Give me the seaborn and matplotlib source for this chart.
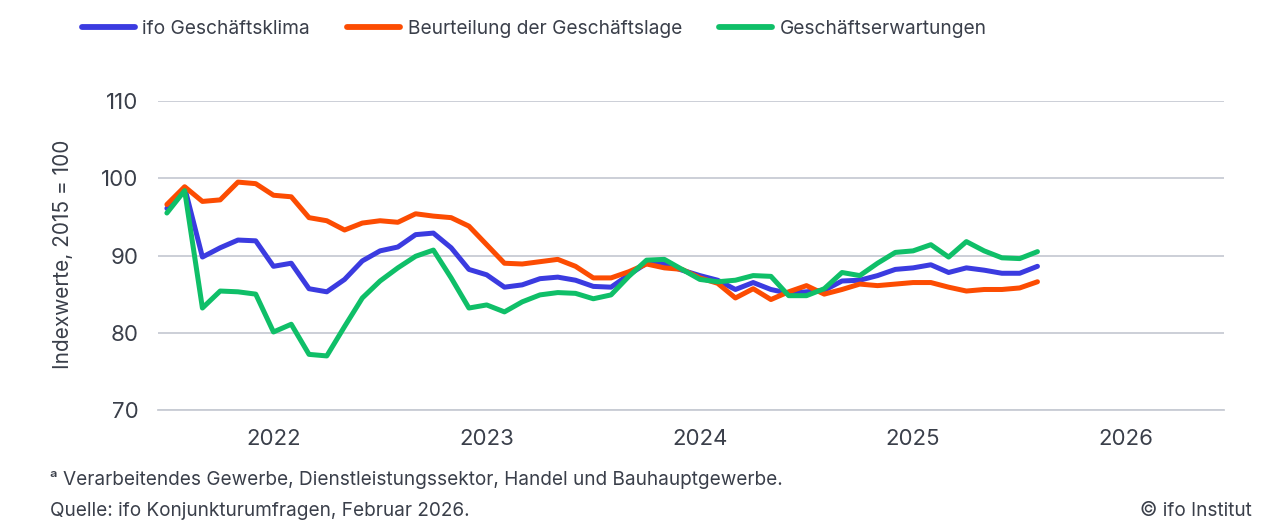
import numpy as np
import pandas as pd
import matplotlib
matplotlib.use("Agg")
import matplotlib.pyplot as plt
import seaborn as sns
from matplotlib.lines import Line2D

# ---- data (monthly, Jan 2022 - Feb 2026) ----
years = [2022, 2023, 2024, 2025, 2026]
series_names = ["ifo Geschäftsklima", "Beurteilung der Geschäftslage", "Geschäftserwartungen"]

klima = [96.1, 98.8, 89.8, 91.0, 92.0, 91.9, 88.6, 89.0, 85.7, 85.3, 86.9, 89.3,
         90.6, 91.1, 92.7, 92.9, 91.0, 88.2, 87.5, 85.9, 86.2, 87.0, 87.2, 86.8,
         86.0, 85.9, 87.5, 89.0, 88.9, 88.1, 87.4, 86.8, 85.6, 86.5, 85.6, 85.1,
         85.3, 85.5, 86.7, 86.8, 87.4, 88.2, 88.4, 88.8, 87.8, 88.4, 88.1, 87.7,
         87.7, 88.6]
lage = [96.6, 98.9, 97.0, 97.2, 99.5, 99.3, 97.8, 97.6, 94.9, 94.5, 93.3, 94.2,
        94.5, 94.3, 95.4, 95.1, 94.9, 93.8, 91.4, 89.0, 88.9, 89.2, 89.5, 88.6,
        87.1, 87.1, 87.9, 88.9, 88.4, 88.2, 87.1, 86.4, 84.5, 85.7, 84.3, 85.3,
        86.1, 85.0, 85.6, 86.3, 86.1, 86.3, 86.5, 86.5, 85.9, 85.4, 85.6, 85.6,
        85.8, 86.6]
erwartungen = [95.5, 98.4, 83.2, 85.4, 85.3, 85.0, 80.1, 81.1, 77.2, 77.0, 80.8, 84.5,
               86.7, 88.4, 89.9, 90.7, 87.1, 83.2, 83.6, 82.7, 84.0, 84.9, 85.2, 85.1,
               84.4, 84.9, 87.3, 89.4, 89.5, 88.2, 86.9, 86.6, 86.8, 87.4, 87.3, 84.8,
               84.8, 85.7, 87.8, 87.4, 89.0, 90.4, 90.6, 91.4, 89.8, 91.8, 90.6, 89.7,
               89.6, 90.5]

colors = ["#3b3be0", "#fc4c02", "#0fbf68"]

n = len(klima)
month_idx = np.arange(n)
xpos = 2022 + (month_idx + 0.5) / 12.0

df = pd.DataFrame({
    "x": np.concatenate([xpos, xpos, xpos]),
    "wert": klima + lage + erwartungen,
    "serie": [series_names[0]] * n + [series_names[1]] * n + [series_names[2]] * n,
})

# ---- style ----
sns.set_theme(style="white")
plt.rcParams["font.family"] = ["Inter", "DejaVu Sans"]
text_col = "#3a3f4a"
grid_col = "#c8ccd4"

fig = plt.figure(figsize=(12.8, 5.32), dpi=100)
ax = fig.add_axes([158 / 1280, 1 - 410 / 532, (1224 - 158) / 1280, (410 - 101) / 532])

sns.lineplot(data=df, x="x", y="wert", hue="serie", hue_order=series_names,
             palette=colors, linewidth=3.6, ax=ax, legend=False)

ax.set_xlim(2022, 2027)
ax.set_ylim(70, 110)
ax.set_yticks([70, 80, 90, 100, 110])
ax.yaxis.grid(True, color=grid_col, linewidth=1.3)
ax.set_axisbelow(True)
ax.tick_params(axis="y", length=0, pad=14, labelsize=16, labelcolor=text_col)

ax.set_xticks([2022, 2023, 2024, 2025, 2026, 2027])
ax.set_xticklabels([])
ax.set_xticks([y + 6.5 / 12 for y in years], minor=True)
ax.set_xticklabels([str(y) for y in years], minor=True)
ax.tick_params(axis="x", which="major", length=7, width=1.3, color=grid_col, direction="out")
ax.tick_params(axis="x", which="minor", length=0, pad=14, labelsize=16, labelcolor=text_col)

for s in ["top", "right", "left"]:
    ax.spines[s].set_visible(False)
ax.spines["bottom"].set_color(grid_col)
ax.spines["bottom"].set_linewidth(1.3)

ax.set_xlabel("")
ax.set_ylabel("")
fig.text(63 / 1280, 1 - 254 / 532, "Indexwerte, 2015 = 100", rotation=90,
         fontsize=15, color=text_col, ha="center", va="center")

# ---- legend ----
handles = [Line2D([0], [0], color=c, linewidth=4.2, solid_capstyle="round") for c in colors]
fig.legend(handles, series_names, loc="center left", bbox_to_anchor=(82 / 1280, 1 - 29 / 532),
           ncol=3, frameon=False, fontsize=13.8, handlelength=2.75, handletextpad=0.4,
           columnspacing=1.95, labelcolor=text_col, borderaxespad=0, borderpad=0)

# ---- footnotes ----
fig.text(50 / 1280, 1 - 480 / 532,
         "ᵃ Verarbeitendes Gewerbe, Dienstleistungssektor, Handel und Bauhauptgewerbe.",
         fontsize=13.7, color=text_col, va="center", ha="left")
fig.text(50 / 1280, 1 - 511 / 532, "Quelle: ifo Konjunkturumfragen, Februar 2026.",
         fontsize=13.7, color=text_col, va="center", ha="left")
fig.text(1252 / 1280, 1 - 511 / 532, "© ifo Institut",
         fontsize=13.7, color=text_col, va="center", ha="right")

fig.savefig("out.png", dpi=100, facecolor="white")
